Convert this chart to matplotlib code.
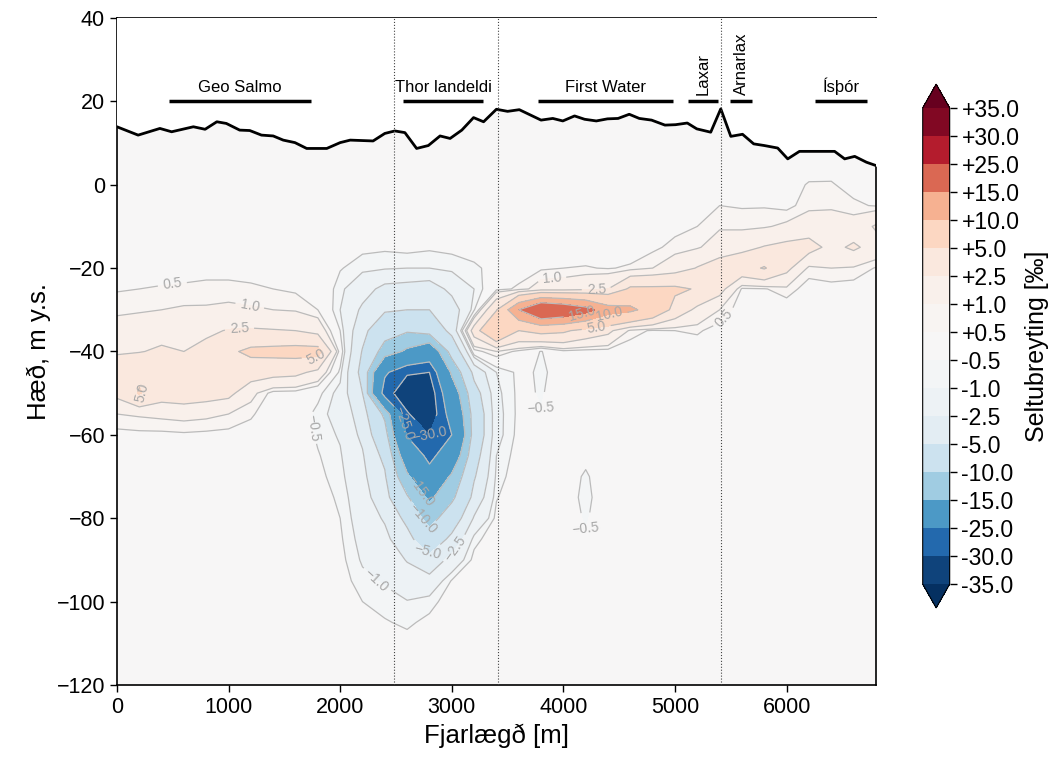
import numpy as np
import matplotlib.pyplot as plt

plt.rcParams['font.family'] = ['Liberation Sans', 'DejaVu Sans']

# model grid: distance along the transect (m) and height (m y.s.)
dist = [0, 200, 400, 600, 800, 1000, 1200, 1400, 1600, 1800, 2000, 2200,
        2400, 2600, 2800, 3000, 3200, 3400, 3600, 3800, 4000, 4200, 4400,
        4600, 4800, 5000, 5200, 5400, 5600, 5800, 6000, 6200, 6400, 6600, 6800]
depth = [20, 15, 10, 5, 0, -5, -10, -15, -20, -25, -30, -35, -40, -45, -50,
         -55, -60, -65, -70, -75, -80, -85, -90, -95, -100, -105, -110, -115, -120]

# salinity change [permil], one row per height, one column per distance
salt_table = """
0 0 0 0 0 0 0 0 0 0 0 0 0 0 0 0 0 0 0 0 0 0 0 0 0 0 0 0 0 0 0 0 0 0 0
0 0 0 0 0 0 0 0 0 0 0 0 0 0 0 0 0 0 0 0 0 0 0 0 0 0 0 0 0 0 0 0 0 0 0
0 0 0 0 0 0 0 0 0 0 0 0 0 0 0 0 0 0 0 0 0 0 0 0 0 0 0 0 0 0 0 0 0 0 0
0 0 0 0 0 0 0 0 0 0 0 0 0 0 0 0 0 0 0 0 0 0 0 0 0 0 0 0 0 0 0.1 0.2 0.25 0.1 0
0 0 0 0 0 0 0 0 0 0 0 0 0 0 0 0 0 0 0 0 0 0 0 0 0 0 0 0.3 0.2 0.2 0.25 0.55 0.55 0.3 0.2
0 0 0 0 0 0 0 0 0 0 0 0 0 0 0 0 0 0 0 0 0 0 0 0 0 0.1 0.2 0.5 0.45 0.45 0.3 0.8 0.9 0.6 0.45
0 0 0 0 0 0 0 0 0 0 0 -0.1 -0.1 -0.15 -0.15 -0.1 0 0 0 0 0 0 0 0 0.15 0.3 0.5 0.9 0.8 0.9 1.2 1.6 1.4 1.5 2.7
0 0 0 0 0 0 0 0 0 0 -0.1 -0.35 -0.4 -0.3 -0.4 -0.35 -0.25 -0.1 0 0.1 0.1 0.1 0.1 0.1 0.35 0.7 0.9 1.5 2.0 2.6 3.0 3.2 2.0 2.8 1.8
0.2 0.2 0.25 0.25 0.3 0.3 0.25 0.2 0.1 0 -0.45 -0.8 -0.9 -1.0 -1.0 -0.8 -0.6 -0.3 0.2 0.4 0.5 0.55 0.45 0.6 1.0 1.6 2.6 3.5 4.0 5.2 3.0 0.8 1.0 0.9 0.45
0.45 0.5 0.55 0.6 0.65 0.65 0.6 0.5 0.4 0.2 -0.8 -1.8 -3.0 -3.2 -3.5 -2.0 -1.0 0.3 0.6 1.5 1.6 2.0 2.5 5.5 5.5 5.5 4.8 3.2 0.4 0.45 0.8 0.2 0.25 0.2 0.2
0.8 0.9 1.0 1.1 1.1 1.2 1.1 1.0 0.9 0.5 -1.0 -2.8 -4.6 -5.0 -5.0 -3.5 -0.6 4.8 15 22 20 17 12 11 8 4 2.0 1.0 0.1 0.1 0.1 0 0 0 0
1.5 1.6 1.8 1.7 2.2 2.6 2.7 2.6 2.5 1.8 -0.5 -4.0 -8.0 -9.5 -8.0 -4.0 3.5 9.5 5.0 6.0 5.5 4.0 3.0 0.8 0.4 0.5 0.6 0.2 0 0 0 0 0 0 0
2.3 2.4 2.8 2.5 3.0 4.5 5.6 5.8 6.0 6.0 0.1 -5.2 -12 -16 -20 -8 0.2 1.0 0.3 -0.55 0.3 0.2 0.2 0.1 0 0 0.1 0 0 0 0 0 0 0 0
3.6 4.6 4.0 4.3 3.8 3.8 3.5 3.2 3.0 2.0 -0.7 -6.0 -24 -29.5 -30 -14 -4 -1.0 -0.35 -0.58 -0.3 0 0 0 0 0 0 0 0 0 0 0 0 0 0
3.0 5.2 3.5 3.8 3.4 3.0 1.3 0.25 0.2 -0.3 -1.3 -5.0 -28 -33 -33.5 -19 -6.5 -1.2 -0.35 -0.55 -0.2 -0.1 0 0 0 0 0 0 0 0 0 0 0 0 0
1.0 1.1 1.2 1.3 1.2 1.0 0.6 0.05 0 -0.7 -1.4 -3.4 -11 -29.5 -34 -22 -8 -1.3 -0.35 -0.48 -0.15 -0.15 0 0 0 0 0 0 0 0 0 0 0 0 0
0.3 0.35 0.35 0.4 0.35 0.3 0.2 0 0 -0.6 -1.1 -2.9 -8 -25.5 -30 -25 -8 -1.3 -0.3 -0.35 -0.2 -0.25 -0.1 0 0 0 0 0 0 0 0 0 0 0 0
0.1 0.1 0.1 0.1 0.1 0.1 0 0 0 -0.45 -0.9 -2.3 -5.8 -19 -27 -20 -6.5 -1.0 -0.2 -0.2 -0.25 -0.4 -0.2 0 0 0 0 0 0 0 0 0 0 0 0
0 0 0 0 0 0 0 0 0 -0.35 -0.75 -2.0 -4.6 -14 -22 -14 -5.3 -0.8 -0.1 -0.1 -0.3 -0.55 -0.25 0 0 0 0 0 0 0 0 0 0 0 0
0 0 0 0 0 0 0 0 0 -0.25 -0.6 -1.7 -3.8 -9.5 -16 -11 -4.0 -0.55 0 0 -0.3 -0.6 -0.25 0 0 0 0 0 0 0 0 0 0 0 0
0 0 0 0 0 0 0 0 0 -0.15 -0.5 -1.5 -2.7 -5.8 -12 -7 -2.3 -0.3 0 0 -0.25 -0.55 -0.2 0 0 0 0 0 0 0 0 0 0 0 0
0 0 0 0 0 0 0 0 0 -0.1 -0.4 -1.3 -2.0 -4.0 -7.5 -4.2 -0.7 -0.1 0 0 -0.1 -0.45 -0.1 0 0 0 0 0 0 0 0 0 0 0 0
0 0 0 0 0 0 0 0 0 0 -0.3 -1.1 -1.5 -2.6 -4.0 -1.8 -0.3 0 0 0 0 -0.2 0 0 0 0 0 0 0 0 0 0 0 0 0
0 0 0 0 0 0 0 0 0 0 -0.2 -0.8 -1.1 -1.7 -1.8 -0.45 -0.1 0 0 0 0 0 0 0 0 0 0 0 0 0 0 0 0 0 0
0 0 0 0 0 0 0 0 0 0 -0.1 -0.5 -0.7 -0.95 -0.7 -0.2 0 0 0 0 0 0 0 0 0 0 0 0 0 0 0 0 0 0 0
0 0 0 0 0 0 0 0 0 0 0 -0.3 -0.45 -0.6 -0.35 -0.1 0 0 0 0 0 0 0 0 0 0 0 0 0 0 0 0 0 0 0
0 0 0 0 0 0 0 0 0 0 0 -0.15 -0.2 -0.3 -0.1 0 0 0 0 0 0 0 0 0 0 0 0 0 0 0 0 0 0 0 0
0 0 0 0 0 0 0 0 0 0 0 0 0 -0.1 0 0 0 0 0 0 0 0 0 0 0 0 0 0 0 0 0 0 0 0 0
0 0 0 0 0 0 0 0 0 0 0 0 0 0 0 0 0 0 0 0 0 0 0 0 0 0 0 0 0 0 0 0 0 0 0
"""
salt = np.array([[float(v) for v in line.split()]
                 for line in salt_table.strip().splitlines()])

levels = [-35, -30, -25, -15, -10, -5, -2.5, -1, -0.5,
          0.5, 1, 2.5, 5, 10, 15, 25, 30, 35]

# seabed profile
bathy_x = [0, 190, 385, 490, 685, 790, 895, 980, 1100, 1190, 1295, 1400, 1490,
           1595, 1700, 1880, 2000, 2090, 2295, 2400, 2490, 2580, 2685, 2790,
           2895, 2985, 3090, 3195, 3285, 3400, 3500, 3605, 3800, 3905, 3995,
           4100, 4190, 4295, 4395, 4490, 4590, 4680, 4790, 4910, 5005, 5110,
           5195, 5320, 5410, 5500, 5605, 5705, 5800, 5920, 6010, 6115, 6220,
           6430, 6520, 6610, 6715, 6800]
bathy_z = [13.9, 11.9, 13.5, 12.7, 13.9, 13.3, 15.1, 14.7, 13.1, 13.0, 11.9,
           11.7, 10.7, 10.1, 8.7, 8.7, 10.1, 10.7, 10.5, 12.3, 12.9, 12.5, 8.7,
           9.4, 11.7, 11.1, 13.1, 16.1, 15.1, 18.1, 17.6, 18.0, 15.5, 15.9,
           15.3, 16.5, 15.7, 15.3, 15.8, 15.9, 16.9, 15.9, 15.5, 14.3, 14.4,
           14.8, 13.4, 12.6, 18.2, 11.6, 12.1, 9.8, 9.4, 8.8, 6.2, 8.0, 8.0,
           8.0, 6.2, 6.8, 5.4, 4.6]

# farms along the transect
farms = ['Geo Salmo', 'Thor landeldi', 'First Water', 'Laxar', 'Arnarlax', 'Ísþór']
farm_start = [466, 2563, 3770, 5117, 5497, 6251]
farm_end = [1738, 3280, 4980, 5385, 5687, 6723]
farm_vertical = [False, False, False, True, True, False]
section_lines = [2480, 3410, 5415]

# contour label spots, per level
label_spots = {
    0.5: [(500, -24.5), (5466, -32.4)],
    1: [(1190, -29), (3900, -23.6)],
    2.5: [(1100, -35.6), (4300, -27.6)],
    5: [(1790, -42.5), (280, -49.7), (4298, -34.8)],
    10: [(4418, -32.4)],
    15: [(4177, -32.4)],
    -0.5: [(1756, -58.3), (3790, -58), (4290, -83)],
    -1: [(2295, -95.5)],
    -2.5: [(3010, -87)],
    -5: [(2800, -87.6)],
    -10: [(2715, -80.4)],
    -15: [(2690, -74)],
    -25: [(2625, -57)],
    -30: [(2800, -60.5)],
}

fig = plt.figure(figsize=(10.63, 7.58), dpi=100)
ax = fig.add_axes([0.110, 0.0963, 0.714, 0.880])
cax = fig.add_axes([0.868, 0.198, 0.0254, 0.691])

cf = ax.contourf(dist, depth, salt, levels=levels, cmap='RdBu_r', extend='both')


def fmt(v):
    return f'{v:.1f}'.replace('-', '\u2212')


# one line set per level so each label lands on its own level
for lev in levels:
    cs = ax.contour(dist, depth, salt, levels=[lev], colors='#bbbbbb',
                    linewidths=0.9, linestyles='solid')
    if lev in label_spots:
        ax.clabel(cs, manual=label_spots[lev], fmt=fmt, fontsize=10,
                  colors='#a8a8a8', inline=True)

# blank out everything above the seabed
ax.fill_between(bathy_x, bathy_z, 40, color='white', zorder=3)
ax.plot(bathy_x, bathy_z, color='black', lw=2, zorder=4)

for xv in section_lines:
    ax.axvline(xv, color='#444444', ls=':', lw=0.8, zorder=5)

for name, x0, x1, vert in zip(farms, farm_start, farm_end, farm_vertical):
    ax.plot([x0, x1], [20, 20], color='black', lw=2.5, zorder=6,
            solid_capstyle='butt')
    xc = (x0 + x1) / 2
    if vert:
        ax.text(xc, 21.5, name, rotation=90, ha='center', va='bottom',
                fontsize=12, zorder=6)
    else:
        ax.text(xc, 22.3, name, ha='center', va='baseline', fontsize=12, zorder=6)

ax.set_xlim(0, 6800)
ax.set_ylim(-120, 40)
ax.set_xticks([0, 1000, 2000, 3000, 4000, 5000, 6000])
ax.set_yticks([-120, -100, -80, -60, -40, -20, 0, 20, 40])
ax.tick_params(labelsize=15.5, length=5, width=1)
for sp in ax.spines.values():
    sp.set_linewidth(1.2)
ax.set_xlabel('Fjarlægð [m]', fontsize=18.5)
ax.set_ylabel('Hæð, m y.s.', fontsize=18.5)

cb = fig.colorbar(cf, cax=cax, ticks=levels, format='%+.1f')
cb.ax.tick_params(labelsize=16.5, length=5, width=1)
cb.set_label('Seltubreyting [‰]', fontsize=18)

fig.savefig('out.png', dpi=100)
